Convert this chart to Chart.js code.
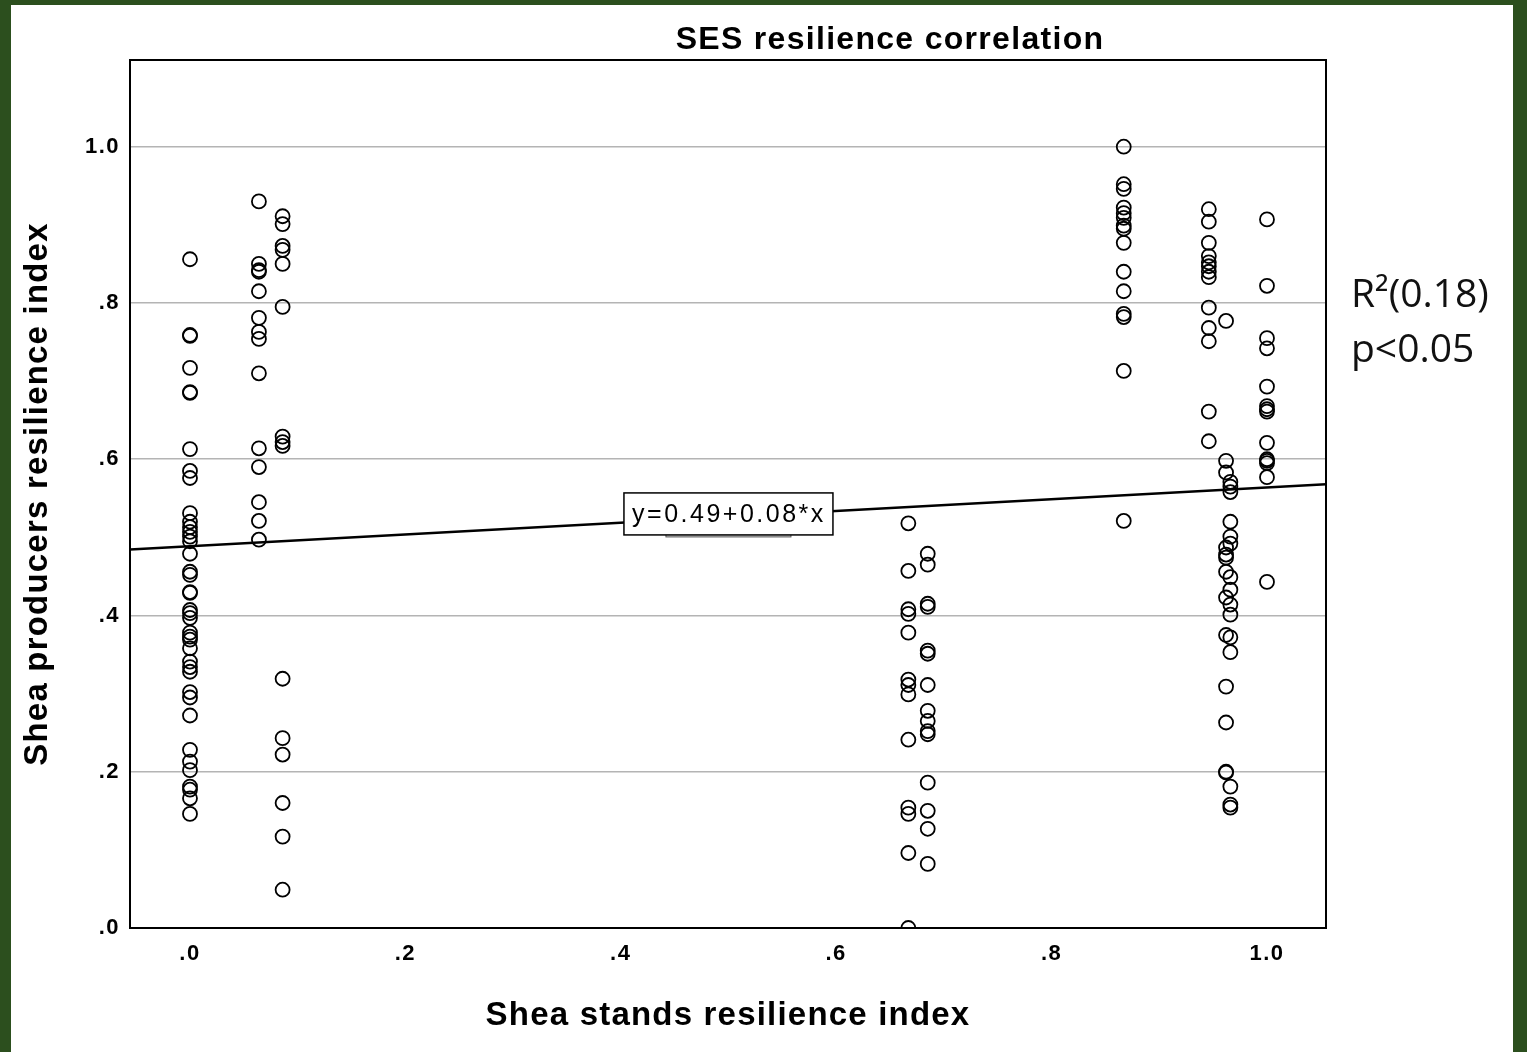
<!DOCTYPE html>
<html>
<head>
<meta charset="utf-8">
<script src="https://cdn.jsdelivr.net/npm/chart.js@4.4.1/dist/chart.umd.min.js"></script>
<style>
  html, body { margin: 0; padding: 0; background: #2c4f1e; }
  body { width: 1527px; height: 1052px; position: relative; overflow: hidden; }
  #frame { position: absolute; left: 11px; top: 5px; width: 1502px; height: 1047px; background: #fff; }
  canvas { display: block; }
</style>
</head>
<body>
<div id="frame"><canvas id="c" width="1502" height="1047"></canvas></div>
<script>
// x positions of the vertical groups (shea stands resilience index)
const standsX = [0, 0.064, 0.086, 0.667, 0.685, 0.867, 0.946, 0.962, 0.966, 1.0];

// producers resilience index, one list per group
const producersAt0 = [0.856, 0.759, 0.758, 0.717, 0.686, 0.685, 0.613, 0.585, 0.576, 0.531,
    0.520, 0.513, 0.507, 0.501, 0.495, 0.479, 0.456, 0.452, 0.430, 0.429, 0.407, 0.403,
    0.397, 0.378, 0.373, 0.369, 0.358, 0.341, 0.334, 0.328, 0.302, 0.295, 0.272, 0.228,
    0.213, 0.202, 0.181, 0.177, 0.166, 0.146];
const producersAt064 = [0.930, 0.850, 0.842, 0.840, 0.815, 0.781, 0.763, 0.754, 0.710,
    0.614, 0.590, 0.545, 0.521, 0.497];
const producersAt086 = [0.911, 0.901, 0.873, 0.868, 0.850, 0.795, 0.629, 0.622, 0.617,
    0.319, 0.243, 0.222, 0.160, 0.117, 0.049];
const producersAt667 = [0.518, 0.457, 0.408, 0.402, 0.378, 0.318, 0.311, 0.299, 0.241,
    0.154, 0.146, 0.096, 0.0];
const producersAt685 = [0.479, 0.465, 0.415, 0.411, 0.355, 0.351, 0.311, 0.278, 0.265,
    0.252, 0.248, 0.186, 0.150, 0.127, 0.082];
const producersAt867 = [1.0, 0.952, 0.946, 0.922, 0.915, 0.909, 0.899, 0.895, 0.877,
    0.840, 0.815, 0.786, 0.782, 0.713, 0.521];
const producersAt946 = [0.920, 0.904, 0.877, 0.860, 0.852, 0.847, 0.840, 0.833, 0.794,
    0.768, 0.751, 0.661, 0.623];
const producersAt962 = [0.777, 0.598, 0.583, 0.487, 0.478, 0.474, 0.456, 0.423, 0.375,
    0.309, 0.263, 0.200, 0.199];
const producersAt966 = [0.571, 0.565, 0.558, 0.520, 0.501, 0.492, 0.449, 0.433, 0.414,
    0.401, 0.372, 0.353, 0.181, 0.158, 0.154];
const producersAt100 = [0.907, 0.822, 0.755, 0.742, 0.693, 0.668, 0.664, 0.661, 0.621,
    0.600, 0.598, 0.595, 0.577, 0.443];

const producersGroups = [producersAt0, producersAt064, producersAt086, producersAt667,
    producersAt685, producersAt867, producersAt946, producersAt962, producersAt966, producersAt100];

// fitted line end points, read at the axis limits
const fitX = [-0.0557, 1.0548];
const fitY = [0.4845, 0.568];
const fitLabel = "y=0.49+0.08*x";

const tickValues = [0, 0.2, 0.4, 0.6, 0.8, 1.0];
const tickLabels = [".0", ".2", ".4", ".6", ".8", "1.0"];

const chartTitle = "SES resilience correlation";
const xTitle = "Shea stands resilience index";
const yTitle = "Shea producers resilience index";
const statLines = ["R\u00b2(0.18)", "p<0.05"];

const points = [];
producersGroups.forEach((ys, i) => {
    ys.forEach((y) => points.push({ x: standsX[i], y: y }));
});

const FONT = '"Liberation Sans", Arial, sans-serif';

// SPSS style output spaces its characters out, canvas letterSpacing mimics it
const extras = {
    id: "extras",
    beforeDraw(chart) {
        chart.ctx.letterSpacing = "1.2px";
    },
    afterDatasetsDraw(chart) {
        chart.ctx.letterSpacing = "1.5px";
    },
    afterDraw(chart) {
        const ctx = chart.ctx;
        const a = chart.chartArea;
        const xs = chart.scales.x, ys = chart.scales.y;
        ctx.save();

        // plot frame
        ctx.strokeStyle = "#000";
        ctx.lineWidth = 2;
        ctx.strokeRect(a.left, a.top, a.right - a.left, a.bottom - a.top);

        // equation label
        const cx = xs.getPixelForValue(0.4995);
        const cy = ys.getPixelForValue(0.53);
        ctx.fillStyle = "#d8d8d8";
        ctx.strokeStyle = "#555";
        ctx.lineWidth = 1;
        ctx.fillRect(cx - 62, cy + 20, 125, 3);
        ctx.strokeRect(cx - 62, cy + 20, 125, 3);
        ctx.fillStyle = "#fff";
        ctx.fillRect(cx - 104, cy - 21, 209, 42);
        ctx.strokeStyle = "#000";
        ctx.lineWidth = 1.5;
        ctx.strokeRect(cx - 104, cy - 21, 209, 42);
        ctx.letterSpacing = "2.5px";
        ctx.font = "25px " + FONT;
        ctx.fillStyle = "#000";
        ctx.textAlign = "center";
        ctx.textBaseline = "middle";
        ctx.fillText(fitLabel, cx + 1, cy + 1);

        // chart title
        ctx.letterSpacing = "1.3px";
        ctx.font = "bold 32px " + FONT;
        ctx.fillText(chartTitle, 879, 35);

        // statistics note
        ctx.letterSpacing = "0px";
        ctx.font = '39px "Open Sans", sans-serif';
        ctx.textAlign = "left";
        ctx.textBaseline = "alphabetic";
        ctx.fillStyle = "#111";
        ctx.fillText(statLines[0], 1340, 302);
        ctx.fillText(statLines[1], 1340, 357);
        ctx.restore();
    },
};

new Chart(document.getElementById("c"), {
    type: "scatter",
    data: {
        datasets: [
            {
                label: "Producers",
                data: points,
                pointStyle: "circle",
                pointRadius: 7,
                pointHoverRadius: 7,
                borderColor: "#000",
                borderWidth: 1.8,
                backgroundColor: "rgba(0,0,0,0)",
            },
            {
                label: "Fit",
                type: "line",
                data: fitX.map((x, i) => ({ x: x, y: fitY[i] })),
                borderColor: "#000",
                borderWidth: 2.5,
                pointRadius: 0,
                fill: false,
            },
        ],
    },
    options: {
        responsive: false,
        animation: false,
        devicePixelRatio: 1,
        layout: { padding: { left: 0, top: 55, right: 187, bottom: 0 } },
        plugins: { legend: { display: false }, tooltip: { enabled: false }, title: { display: false } },
        scales: {
            x: {
                type: "linear",
                min: fitX[0],
                max: fitX[1],
                afterBuildTicks: (s) => { s.ticks = tickValues.map((v) => ({ value: v })); },
                afterFit: (s) => { s.height = 124; },
                grid: { display: false, drawTicks: false },
                border: { display: false },
                ticks: {
                    z: 1,
                    padding: 13,
                    color: "#000",
                    maxRotation: 0,
                    autoSkip: false,
                    font: { family: FONT, size: 22, weight: "bold" },
                    callback: (v) => tickLabels[tickValues.indexOf(v)],
                },
                title: {
                    display: true,
                    text: xTitle,
                    color: "#000",
                    font: { family: FONT, size: 33, weight: "bold" },
                    padding: { top: 0, bottom: 16 },
                },
            },
            y: {
                type: "linear",
                min: 0,
                max: 1.111,
                afterBuildTicks: (s) => { s.ticks = tickValues.map((v) => ({ value: v })); },
                afterFit: (s) => { s.width = 119; },
                grid: {
                    drawTicks: false,
                    color: (c) => (c.tick && c.tick.value === 0 ? "rgba(0,0,0,0)" : "#b4b4b4"),
                    lineWidth: 1.5,
                },
                border: { display: false },
                ticks: {
                    z: 1,
                    padding: 10,
                    color: "#000",
                    autoSkip: false,
                    font: { family: FONT, size: 22, weight: "bold" },
                    callback: (v) => tickLabels[tickValues.indexOf(v)],
                },
                title: {
                    display: true,
                    text: yTitle,
                    color: "#000",
                    font: { family: FONT, size: 33, weight: "bold" },
                    padding: { top: 7, bottom: 0 },
                },
            },
        },
    },
    plugins: [extras],
});
</script>
</body>
</html>
